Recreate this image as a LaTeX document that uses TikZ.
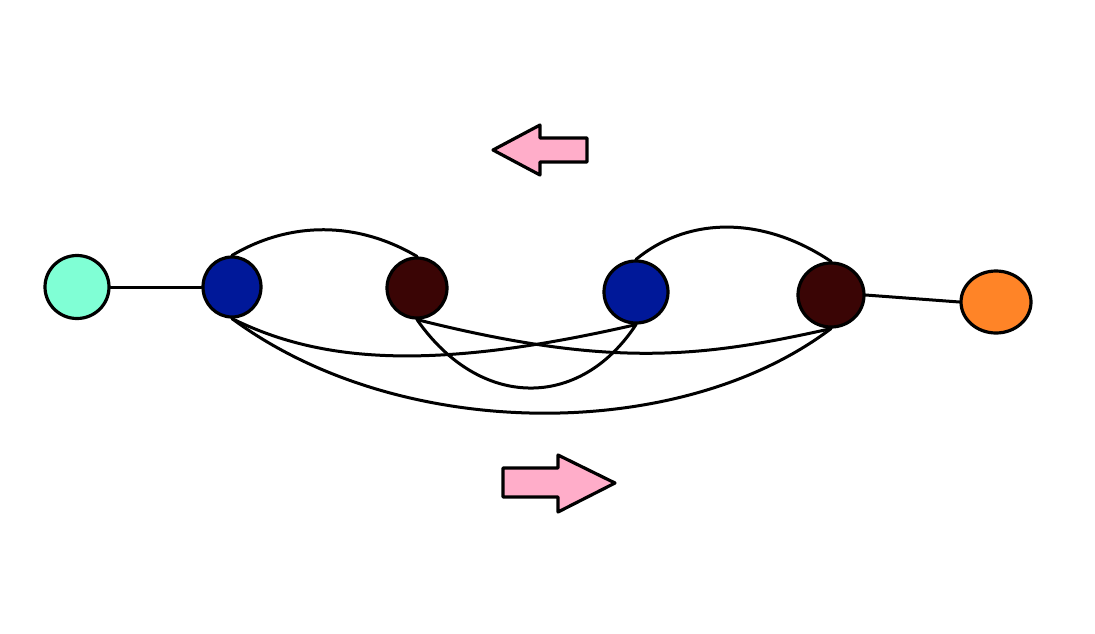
\documentclass[tikz,border=0pt]{standalone}
\usetikzlibrary{arrows.meta,calc,positioning,shapes.geometric}
\definecolor{bondMint}{HTML}{80FFD5}
\definecolor{bondBlue}{HTML}{001899}
\definecolor{bondBrown}{HTML}{3A0505}
\definecolor{bondOrange}{HTML}{FF8427}
\definecolor{bondPink}{HTML}{FFADC9}
\begin{document}
\begin{tikzpicture}[x=1pt,y=-1pt,line cap=round,line join=round]
\path[fill=white] (0,0) rectangle (1095,633);
\tikzset{bead/.style={ellipse,draw=black,line width=3.2pt,inner sep=0pt},link/.style={draw=black,line width=3pt},flow/.style={draw=black,fill=bondPink,line width=3.2pt}}
\node[bead,fill=bondMint,minimum width=64pt,minimum height=63pt] (mintEnd) at (77,287) {};
\node[bead,fill=bondBlue,minimum width=58pt,minimum height=60pt] (blueA) at (232,287) {};
\node[bead,fill=bondBrown,minimum width=60pt,minimum height=60pt] (brownA) at (417,288) {};
\node[bead,fill=bondBlue,minimum width=64pt,minimum height=62pt] (blueB) at (636,292) {};
\node[bead,fill=bondBrown,minimum width=66pt,minimum height=64pt] (brownB) at (831,295) {};
\node[bead,fill=bondOrange,minimum width=70pt,minimum height=62pt] (orangeEnd) at (996,302) {};
\draw[link] (mintEnd.east) -- (blueA.west); \draw[link] (brownB.east) -- (orangeEnd.west);
\draw[link] (blueA.north) .. controls (290,221) and (357,221) .. (brownA.north);
\draw[link] (blueB.north) .. controls (690,215) and (765,217) .. (brownB.north);
\draw[link] (blueA.south) .. controls (320,362) and (430,372) .. (blueB.south);
\draw[link] (brownA.south) .. controls (610,368) and (700,358) .. (brownB.south);
\draw[link] (brownA.south) .. controls (480,410) and (580,410) .. (blueB.south);
\draw[link] (blueA.south) .. controls (400,443) and (680,443) .. (brownB.south);
\draw[flow] (493,150) -- (540,125) -- (540,138) -- (587,138) -- (587,162) -- (540,162) -- (540,175) -- cycle;
\draw[flow] (615,483) -- (558,455) -- (558,468) -- (503,468) -- (503,497) -- (558,497) -- (558,512) -- cycle;
\end{tikzpicture}
\end{document}
